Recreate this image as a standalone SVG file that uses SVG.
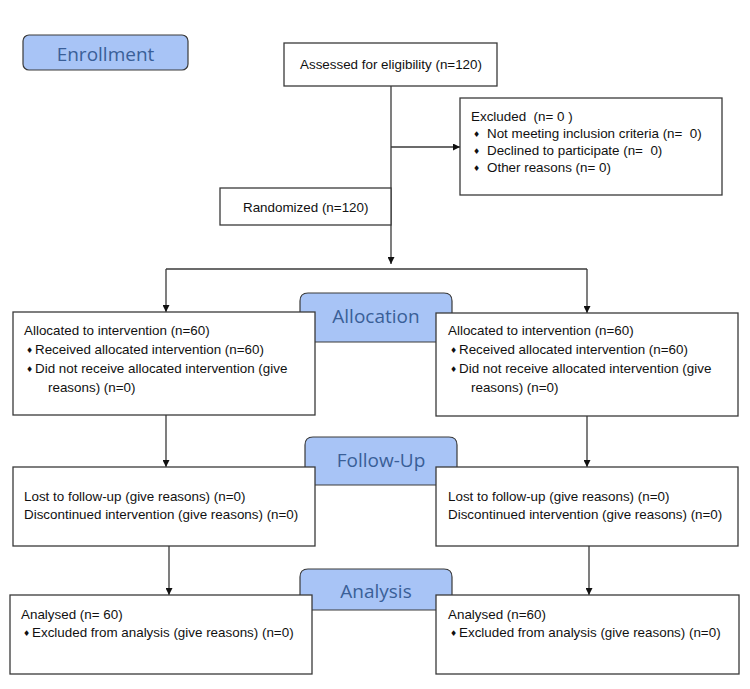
<svg xmlns="http://www.w3.org/2000/svg" width="750" height="689" viewBox="0 0 750 689">
<defs>
<style>
.box{fill:#fff;stroke:#3a3a3a;stroke-width:1.3}
.tab{fill:#a8c4f6;stroke:#3a3a3a;stroke-width:1.2}
.tt{font-family:"Open Sans","DejaVu Sans",sans-serif;font-size:19px;fill:#3a5f98;text-anchor:middle}
.t{font-family:"Liberation Sans",Arial,sans-serif;font-size:13.4px;fill:#111}
.b{font-family:"DejaVu Sans",sans-serif;font-size:8px;fill:#111}
.ln{fill:none;stroke:#3a3a3a;stroke-width:1.3}
</style>
<marker id="ah" viewBox="0 0 10 10" refX="10" refY="5" markerWidth="7" markerHeight="7" markerUnits="userSpaceOnUse" orient="auto">
<path d="M0,0 L10,5 L0,10 z" fill="#111"/>
</marker>
</defs>
<rect width="750" height="689" fill="#fff"/>

<g id="tab-enrollment">
<rect class="tab" x="23" y="35" width="165" height="35" rx="6"/>
<text class="tt" x="105.5" y="61">Enrollment</text>
</g>
<g id="tab-allocation">
<path class="tab" d="M300,342 V301 Q300,293 308,293 H444 Q452,293 452,301 V342 Z"/>
<text class="tt" x="376" y="323">Allocation</text>
</g>
<g id="tab-followup">
<path class="tab" d="M305,485 V445 Q305,437 313,437 H449 Q457,437 457,445 V485 Z"/>
<text class="tt" x="381" y="467">Follow-Up</text>
</g>
<g id="tab-analysis">
<path class="tab" d="M300,610 V577 Q300,569 308,569 H444 Q452,569 452,577 V610 Z"/>
<text class="tt" x="376" y="598">Analysis</text>
</g>

<g id="connectors">
<path class="ln" d="M391,86 V264" marker-end="url(#ah)"/>
<path class="ln" d="M391,147 H460" marker-end="url(#ah)"/>
<path class="ln" d="M166,269 H587"/>
<path class="ln" d="M166,269 V312" marker-end="url(#ah)"/>
<path class="ln" d="M587,269 V313" marker-end="url(#ah)"/>
<path class="ln" d="M166,415 V467" marker-end="url(#ah)"/>
<path class="ln" d="M587,416 V467" marker-end="url(#ah)"/>
<path class="ln" d="M169,546 V595" marker-end="url(#ah)"/>
<path class="ln" d="M589,546 V595" marker-end="url(#ah)"/>
</g>

<g id="assessed">
<rect class="box" x="284" y="43" width="213" height="43"/>
<text class="t" x="300" y="69">Assessed for eligibility (n=120)</text>
</g>
<g id="excluded">
<rect class="box" x="460" y="98" width="262" height="97"/>
<text class="t" x="471" y="121" xml:space="preserve">Excluded  (n= 0 )</text>
<text class="b" x="473" y="137">♦</text>
<text class="t" x="487" y="138" xml:space="preserve">Not meeting inclusion criteria (n=  0)</text>
<text class="b" x="473" y="154">♦</text>
<text class="t" x="487" y="155" xml:space="preserve">Declined to participate (n=  0)</text>
<text class="b" x="473" y="171">♦</text>
<text class="t" x="487" y="172">Other reasons (n= 0)</text>
</g>
<g id="randomized">
<rect class="box" x="220" y="188" width="171" height="37"/>
<text class="t" x="243" y="212">Randomized (n=120)</text>
</g>

<g id="alloc-left">
<rect class="box" x="13" y="312" width="302" height="103"/>
<text class="t" x="24" y="335">Allocated to intervention (n=60)</text>
<text class="b" x="26" y="353">♦</text>
<text class="t" x="35" y="354">Received allocated intervention (n=60)</text>
<text class="b" x="26" y="372">♦</text>
<text class="t" x="35" y="373">Did not receive allocated intervention (give</text>
<text class="t" x="48" y="392">reasons) (n=0)</text>
</g>
<g id="alloc-right">
<rect class="box" x="436" y="313" width="302" height="103"/>
<text class="t" x="448" y="335">Allocated to intervention (n=60)</text>
<text class="b" x="450" y="353">♦</text>
<text class="t" x="459" y="354">Received allocated intervention (n=60)</text>
<text class="b" x="450" y="372">♦</text>
<text class="t" x="459" y="373">Did not receive allocated intervention (give</text>
<text class="t" x="471" y="392">reasons) (n=0)</text>
</g>

<g id="follow-left">
<rect class="box" x="13" y="467" width="302" height="79"/>
<text class="t" x="24" y="501">Lost to follow-up (give reasons) (n=0)</text>
<text class="t" x="24" y="519">Discontinued intervention (give reasons) (n=0)</text>
</g>
<g id="follow-right">
<rect class="box" x="436" y="467" width="302" height="79"/>
<text class="t" x="448" y="501">Lost to follow-up (give reasons) (n=0)</text>
<text class="t" x="448" y="519">Discontinued intervention (give reasons) (n=0)</text>
</g>

<g id="analysis-left">
<rect class="box" x="10" y="595" width="302" height="79"/>
<text class="t" x="21" y="619">Analysed (n= 60)</text>
<text class="b" x="23" y="636">♦</text>
<text class="t" x="32" y="637">Excluded from analysis (give reasons) (n=0)</text>
</g>
<g id="analysis-right">
<rect class="box" x="436" y="595" width="303" height="79"/>
<text class="t" x="448" y="619">Analysed (n=60)</text>
<text class="b" x="450" y="636">♦</text>
<text class="t" x="459" y="637">Excluded from analysis (give reasons) (n=0)</text>
</g>
</svg>
